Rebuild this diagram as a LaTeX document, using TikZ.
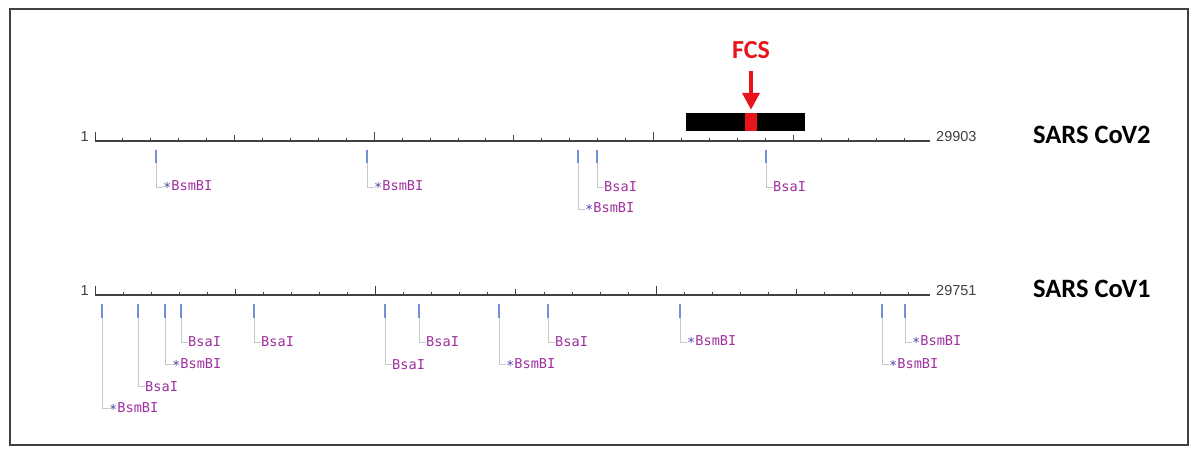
\documentclass[tikz,border=0pt]{standalone}
\usepackage{fontspec}
\setmainfont{Carlito}
\newfontfamily\seqmono{DejaVu Sans Mono}
\newfontfamily\seqsans{Liberation Sans}
\usepackage{tikz}
\usepackage{xcolor}
\usetikzlibrary{positioning,arrows.meta,calc}
\definecolor{fcsred}{HTML}{E8141B}
\definecolor{enzpurple}{HTML}{9E2F9E}
\definecolor{starblue}{HTML}{5048A8}
\definecolor{cutblue}{HTML}{7090D8}
\definecolor{leadgray}{HTML}{C8C8C8}
\definecolor{axisgray}{HTML}{404040}
\newcommand{\cutstar}{{\color{starblue}\raisebox{-2pt}{*}}}

\begin{document}
\begin{tikzpicture}[x=1pt,y=-1pt]
    \tikzstyle{ax}=[draw=axisgray,line width=1.4pt];
    \tikzstyle{cut}=[draw=cutblue,line width=1.2pt];
    \tikzstyle{lead}=[draw=leadgray,line width=0.9pt];
    \tikzstyle{enz}=[anchor=west,inner sep=0pt,text=enzpurple,font=\seqmono\fontsize{13.6}{13.6}\selectfont];
    \tikzstyle{num}=[inner sep=0pt,text=axisgray,font=\seqsans\fontsize{14.5}{14.5}\selectfont];
    \tikzstyle{genome}=[anchor=base west,inner sep=0pt,font=\bfseries\fontsize{26.5}{26.5}\selectfont];
    \useasboundingbox (0,0) rectangle (1200,454);
    \draw[draw=axisgray,line width=2pt] (10,9) rectangle (1188,445);

    % axes with ticks every 1000 bp (length in kb for pgfmath)
    \foreach \ay/\kb/\len/\id in {141/29.903/29903/two,295/29.751/29751/one}{
      \pgfmathsetmacro\pxk{835/\kb}
      \node[num,anchor=south east] (s\id) at (89,\ay+1) {1};
      \coordinate (a\id) at (95,\ay);
      \coordinate (b\id) at (930,\ay);
      \draw[ax] (a\id) -- (b\id);
      \foreach \k in {0,...,29}{
        \pgfmathsetmacro\tx{95+\k*\pxk}
        \pgfmathsetmacro\th{ifthenelse(mod(\k,10)==0,9,ifthenelse(mod(\k,5)==0,6,3))}
        \draw[axisgray,line width=1pt] (\tx,\ay) -- (\tx,\ay-\th);
      }
      \node[num,anchor=south west] (e\id) at (936,\ay+1) {\len};
    }

    \node[genome] (cov2) at (1033,144) {SARS CoV2};
    \node[genome] (cov1) at (1033,298) {SARS CoV1};

    % restriction sites: x / level / star / enzyme
    \foreach \x/\lv/\st/\enz [count=\n] in {156/1/1/BsmBI,367/1/1/BsmBI,578/2/1/BsmBI,597/1/0/BsaI,766/1/0/BsaI}{
      \coordinate (ttwo\n) at (\x,150);
      \coordinate (utwo\n) at (\x,163);
      \node[enz] (ctwo\n) at (\x+7,{187+22*(\lv-1)}) {\ifnum\st=1\cutstar\fi\enz};
      \draw[cut] (ttwo\n) -- (utwo\n);
      \draw[lead] (utwo\n) |- (ctwo\n.west);
    }
    \foreach \x/\lv/\st/\enz [count=\n] in {102/4/1/BsmBI,138/3/0/BsaI,165/2/1/BsmBI,181/1/0/BsaI,254/1/0/BsaI,385/2/0/BsaI,419/1/0/BsaI,499/2/1/BsmBI,548/1/0/BsaI,680/1/1/BsmBI,882/2/1/BsmBI,905/1/1/BsmBI}{
      \coordinate (tone\n) at (\x,304);
      \coordinate (uone\n) at (\x,318);
      \node[enz] (cone\n) at (\x+7,{342+22.3*(\lv-1)}) {\ifnum\st=1\cutstar\fi\enz};
      \draw[cut] (tone\n) -- (uone\n);
      \draw[lead] (uone\n) |- (cone\n.west);
    }

    % furin cleavage site
    \node[fill=black,minimum width=119pt,minimum height=18pt,inner sep=0pt] (bar) at (745.5,122) {};
    \node[fill=fcsred,minimum width=12pt,minimum height=18pt,inner sep=0pt] (fcsbox) at (751,122) {};
    \node[inner sep=0pt,anchor=base,text=fcsred,font=\bfseries\fontsize{26}{26}\selectfont] (fcs) at (751,59) {FCS};
    \draw[-{Triangle[length=17pt,width=17pt]},line width=4pt,fcsred,shorten <=12pt,shorten >=3pt] (fcs.south) -- (fcsbox.north);
\end{tikzpicture}
\end{document}
